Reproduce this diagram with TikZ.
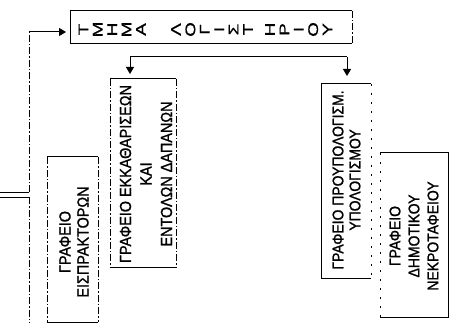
\documentclass[tikz,border=0pt]{standalone}
\usepackage{fontspec}
\setmainfont{Liberation Sans}[FakeStretch=0.9, FakeBold=1.2]
\newfontfamily\headfont{Liberation Sans}[FakeStretch=1.35, FakeBold=0.8]
\usetikzlibrary{arrows.meta}

\begin{document}
\begin{tikzpicture}[x=1pt, y=-1pt, line width=1pt,
    officebox/.style={draw=none, inner sep=0pt, outer sep=0pt},
    officetext/.style={rotate=90, align=center, inner sep=0pt,
        font=\fontsize{16}{#1}\selectfont},
    officetext/.default=18,
    dashdot/.style={dash pattern=on 7pt off 2pt on 1.5pt off 2pt},
    sparse/.style={dash pattern=on 2pt off 7pt},
    flowtip/.style={-{Triangle[width=8pt,length=7pt]}, shorten >=5pt}]

    \useasboundingbox (0,0) rectangle (449,323);

    % ==========================================
    % HEAD: the accounts department
    % ==========================================
    \node[officebox, minimum width=282pt, minimum height=33pt] (tmima) at (211,27.5) {};
    \node[rotate=90, align=center, inner sep=0pt, font=\headfont\fontsize{14}{14.4}\selectfont]
        (tmimatxt) at (205.5,29.5)
        {Τ\\Μ\\Η\\Μ\\Α\\[20.6pt]Λ\\Ο\\Γ\\Ι\\Σ\\Τ\\[7.6pt]Η\\Ρ\\Ι\\Ο\\Υ};
    \draw (tmima.north east) -- (tmima.north west) -- (tmima.south west) -- (tmima.south east);
    \draw[dashdot] (tmima.north east) -- (tmima.south east);

    % ==========================================
    % OFFICES (text stands on its side)
    % ==========================================
    % Collectors
    \node[officebox, minimum width=51pt, minimum height=165pt] (eisp) at (72.5,239.5) {};
    \node[officetext=18] (eisptxt) at (74,242) {ΓΡΑΦΕΙΟ\\ΕΙΣΠΡΑΚΤΟΡΩΝ};
    \draw (eisp.north west) -- (eisp.north east);
    \draw (eisp.south west) -- (eisp.south east);
    \draw[dashdot] (eisp.north west) -- (eisp.south west);
    \draw[dashdot] (eisp.north east) -- (eisp.south east);

    % Clearing and payment orders
    \node[officebox, minimum width=66pt, minimum height=188pt] (ekkath) at (143,173) {};
    \node[officetext=20.5] (ekkathtxt) at (146,174)
        {ΓΡΑΦΕΙΟ ΕΚΚΑΘΑΡΙΣΕΩΝ\\ΚΑΙ\\ΕΝΤΟΛΩΝ ΔΑΠΑΝΩΝ};
    \draw (ekkath.north west) -- (ekkath.north east);
    \draw (ekkath.south west) -- (ekkath.south east);
    \draw[dashdot] (ekkath.north west) -- (ekkath.south west);
    \draw[dashdot] (ekkath.north east) -- (ekkath.south east);

    % Budget
    \node[officebox, minimum width=50pt, minimum height=194pt] (proyp) at (346,181) {};
    \node[officetext=17, font=\fontsize{15.5}{17}\selectfont] (proyptxt) at (346.5,180)
        {ΓΡΑΦΕΙΟ ΠΡΟΥΠΟΛΟΓΙΣΜ.\\ΥΠΟΛΟΓΙΣΜΟΥ};
    \draw (proyp.north east) -- (proyp.north west) -- (proyp.south west) -- (proyp.south east);
    \draw[sparse] (proyp.north east) -- (proyp.south east);

    % Cemetery
    \node[officebox, minimum width=68pt, minimum height=164pt] (nekro) at (414,235) {};
    \node[officetext=19, font=\fontsize{15.5}{19}\selectfont] (nekrotxt) at (414,236)
        {ΓΡΑΦΕΙΟ\\ΔΗΜΟΤΙΚΟΥ\\ΝΕΚΡΟΤΑΦΕΙΟΥ};
    \draw (nekro.north west) -- (nekro.north east) -- (nekro.south east) -- (nekro.south west);
    \draw[sparse] (nekro.north west) -- (nekro.south west);

    % ==========================================
    % CONNECTORS
    % ==========================================
    % Feed from the left margin up to the head
    \coordinate (inA) at (0,192);
    \coordinate (inB) at (0,197);
    \coordinate (feedA) at (29,192);
    \coordinate (feedB) at (29,197);
    \coordinate (feedtop) at (29,32);
    \coordinate (feedbot) at (29,323);
    \draw (inA) -- (feedA);
    \draw (inB) -- (feedB);
    \draw[dashdot] (feedA) -- (feedtop);
    \draw[dashdot] (feedB) -- (feedbot);
    \draw[flowtip, shorten >=4pt] (feedtop) -- (tmima.west |- feedtop);

    % Bracket down to the two offices
    \coordinate (splitL) at (130,57);
    \coordinate (splitR) at (347,57);
    \draw (splitL) -- (splitR);
    \draw[flowtip] (splitL) -- (splitL |- ekkath.north);
    \draw[flowtip, shorten >=8pt] (splitR) -- (splitR |- proyp.north);

\end{tikzpicture}
\end{document}
